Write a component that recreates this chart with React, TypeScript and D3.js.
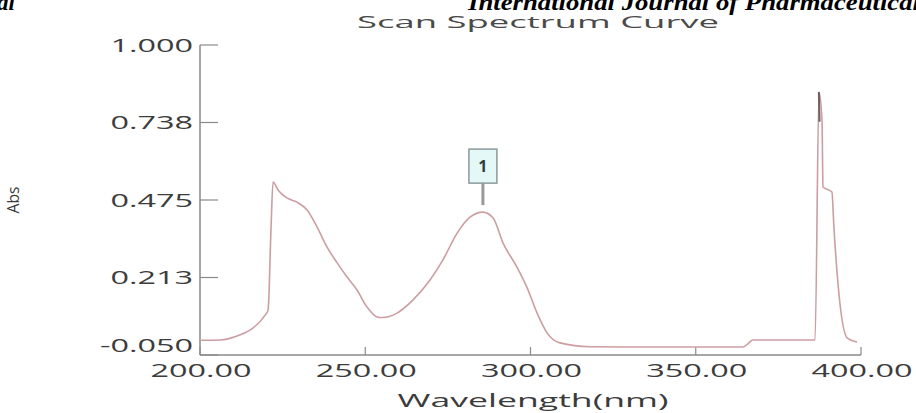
import React from 'react';
import * as d3 from 'd3';

// spectrum (wavelength in nm, absorbance)
const wavelength = [
  200, 206, 212, 216, 219.7, 220.6, 221.5, 222.1, 223.6, 226.3, 229.3, 232.4, 235.4, 238.4,
  241.5, 244.5, 247.5, 250.5, 253.6, 255.1, 259.6, 264.4, 269.6, 273.5, 277.8, 281.7, 285.6,
  288.7, 291.7, 295.9, 298.9, 302.0, 305.0, 308.9, 318, 330, 349.8, 364.3, 365.8, 367.3, 384.6,
  386.1, 387.3, 388.2, 388.5, 391.2, 391.8, 393.3, 395.8, 398.8,
];
const absorbance = [
  0.0, 0.001, 0.018, 0.041, 0.085, 0.102, 0.383, 0.536, 0.509, 0.482, 0.468, 0.441, 0.384, 0.316,
  0.262, 0.214, 0.17, 0.113, 0.079, 0.077, 0.092, 0.136, 0.204, 0.272, 0.363, 0.417, 0.434,
  0.414, 0.329, 0.248, 0.18, 0.092, 0.025, -0.009, -0.022, -0.023, -0.023, -0.023, -0.012, 0.001,
  0.001, 0.001, 0.841, 0.746, 0.519, 0.502, 0.384, 0.16, 0.008, -0.006,
];

// darker overlap at the top of the spike
const spikeTopWavelength = [387.25, 387.45];
const spikeTopAbsorbance = [0.841, 0.74];

const peakLabel = '1';
const peakWavelength = 285.6;

const xTicks = [200, 250, 300, 350, 400];
const xTickLabels = ['200.00', '250.00', '300.00', '350.00', '400.00'];
const yTicks = [-0.05, 0.2125, 0.475, 0.7375, 1.0];
const yTickLabels = ['-0.050', '0.213', '0.475', '0.738', '1.000'];

const title = 'Scan Spectrum Curve';
const xTitle = 'Wavelength(nm)';
const yTitle = 'Abs';

const W = 916;
const H = 413;
const left = 200;
const right = 861;
const top = 45;
const bottom = 355;
const sx = 1.8; // the original picture is stretched sideways

export default function App() {
  const x = d3.scaleLinear().domain([200, 400]).range([left, right]);
  const y = d3.scaleLinear().domain([-0.05, 1.0]).range([bottom, top]);

  const points = wavelength.map((w, i) => [w, absorbance[i]] as [number, number]);
  const topPoints = spikeTopWavelength.map((w, i) => [w, spikeTopAbsorbance[i]] as [number, number]);

  const line = d3
    .line<[number, number]>()
    .x(d => x(d[0]))
    .y(d => y(d[1]))
    .curve(d3.curveMonotoneX);

  const peakAbs = absorbance[wavelength.indexOf(peakWavelength)];
  const px = x(peakWavelength);
  const py = y(peakAbs);

  const axisColor = '#8a8a8a';
  const textColor = '#3c3c3c';
  const font = "'Open Sans', sans-serif";

  return (
    <svg
      width={W}
      height={H}
      style={{ position: 'absolute', left: 0, top: 0, background: '#fff' }}
    >
      {/* journal header, cut off at the top */}
      <g fontFamily="'Liberation Serif', serif" fontStyle="italic" fontWeight="bold" fontSize={23} fill="#000">
        <text x={-3} y={10}>al</text>
        <text x={468} y={10} textLength={452} lengthAdjust="spacingAndGlyphs">
          International Journal of Pharmaceutical
        </text>
      </g>

      <text
        x={538}
        y={28}
        textAnchor="middle"
        textLength={362}
        lengthAdjust="spacingAndGlyphs"
        fontFamily={font}
        fontSize={17}
        fill="#4a4a4a"
      >
        {title}
      </text>

      {/* axes */}
      <line x1={left} x2={left} y1={top} y2={bottom} stroke={axisColor} strokeWidth={1.5} />
      <line x1={left} x2={right} y1={bottom} y2={bottom} stroke={axisColor} strokeWidth={1.5} />

      {yTicks.map((t, i) => (
        <g key={'y' + i}>
          <line x1={left} x2={left + 18} y1={y(t)} y2={y(t)} stroke={axisColor} strokeWidth={1.2} />
          <text
            transform={`translate(${left - 7},${y(t) + 6.5 - (i === 0 ? 10 : 0)}) scale(${sx},1)`}
            textAnchor="end"
            fontFamily={font}
            fontSize={18}
            fill={textColor}
          >
            {yTickLabels[i]}
          </text>
        </g>
      ))}

      {xTicks.map((t, i) => (
        <g key={'x' + i}>
          <line x1={x(t)} x2={x(t)} y1={bottom} y2={bottom - 8} stroke={axisColor} strokeWidth={1.2} />
          <text
            transform={`translate(${x(t) + 1},${bottom + 22}) scale(${sx},1)`}
            textAnchor="middle"
            fontFamily={font}
            fontSize={18}
            fill={textColor}
          >
            {xTickLabels[i]}
          </text>
        </g>
      ))}

      <text
        x={533}
        y={bottom + 52}
        textAnchor="middle"
        textLength={271}
        lengthAdjust="spacingAndGlyphs"
        fontFamily={font}
        fontSize={18}
        fill={textColor}
      >
        {xTitle}
      </text>

      <text
        transform={`translate(${19},${(top + bottom) / 2}) rotate(-90)`}
        textAnchor="middle"
        textLength={27}
        lengthAdjust="spacingAndGlyphs"
        fontFamily={font}
        fontSize={16}
        fill={textColor}
      >
        {yTitle}
      </text>

      {/* spectrum */}
      <path d={line(points) || ''} fill="none" stroke="#cc9ea2" strokeWidth={1.6} />
      <path d={d3.line()(topPoints.map(d => [x(d[0]), y(d[1])])) || ''} fill="none" stroke="#6e5f60" strokeWidth={2} />

      {/* peak marker */}
      <line x1={px} x2={px} y1={py - 7} y2={py - 29} stroke="#999" strokeWidth={3} />
      <rect x={px - 14} y={py - 63} width={28} height={34} fill="#e4f8f8" stroke="#8a9a9a" strokeWidth={1.5} />
      <text x={px} y={py - 40} textAnchor="middle" fontFamily={font} fontWeight="bold" fontSize={16} fill="#2f4040">
        {peakLabel}
      </text>
    </svg>
  );
}
